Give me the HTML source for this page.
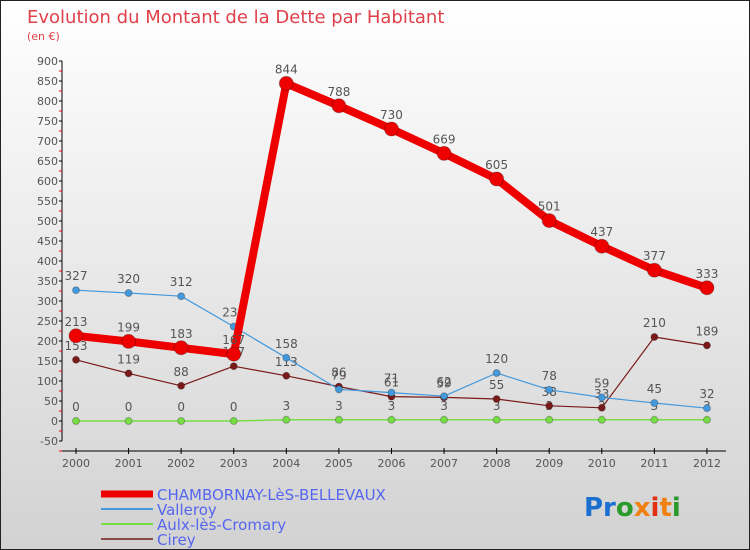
<!DOCTYPE html>
<html><head><meta charset="utf-8"><style>
body{margin:0}
#c{width:750px;height:550px;position:relative;overflow:hidden;background:linear-gradient(#ffffff,#d2d2d2);box-sizing:border-box;border:1px solid #222;font-family:"DejaVu Sans","Liberation Sans",sans-serif}
</style></head><body>
<div id="c">
<svg id="s" width="750" height="550" style="position:absolute;left:0;top:0">
<text x="26" y="22" font-size="18" fill="#e0404a">Evolution du Montant de la Dette par Habitant</text>
<text x="26" y="39" font-size="11" fill="#e0404a">(en €)</text>
<g id="g"></g>
<text x="583" y="515" font-size="26" font-weight="bold"><tspan fill="#1a6fd0">Pr</tspan><tspan fill="#2a9a2a">o</tspan><tspan fill="#f08010">x</tspan><tspan fill="#e03010">i</tspan><tspan fill="#f08010">t</tspan><tspan fill="#2a9a2a">i</tspan></text>
</svg></div>
<script>
const years=[2000,2001,2002,2003,2004,2005,2006,2007,2008,2009,2010,2011,2012];
const cham=[213,199,183,167,844,788,730,669,605,501,437,377,333];
const valleroy=[327,320,312,236,158,79,71,62,120,78,59,45,32];
const aulx=[0,0,0,0,3,3,3,3,3,3,3,3,3];
const cirey=[153,119,88,137,113,86,61,59,55,38,33,210,189];
const yTicks=[-50,0,50,100,150,200,250,300,350,400,450,500,550,600,650,700,750,800,850,900];
const NS="http://www.w3.org/2000/svg";
const g=document.getElementById('g');
const X=i=>75+i*52.58, Y=v=>420-v*0.4;
function el(t,a,p){const e=document.createElementNS(NS,t);for(const k in a)e.setAttribute(k,a[k]);(p||g).appendChild(e);return e;}
let ax=el('line',{x1:61,y1:60,x2:61,y2:440,stroke:'#000','stroke-width':1});

yTicks.forEach(v=>{
 let t=el('line',{x1:58,x2:61,y1:Y(v),y2:Y(v),stroke:'#000'});
 
 let r=el('line',{x1:58,x2:61,y1:Y(v)+10,y2:Y(v)+10,stroke:'#f00'});
 
 let l=el('text',{x:57,y:Y(v)+4,'font-size':11,'text-anchor':'end',fill:'#555'});l.textContent=v;
 
});
let xa=el('line',{x1:61,y1:450,x2:725,y2:450,stroke:'#000'});

years.forEach((y,i)=>{
 let t=el('line',{x1:X(i),x2:X(i),y1:447,y2:453,stroke:'#000'});
 
 let l=el('text',{x:X(i),y:466,'font-size':11,'text-anchor':'middle',fill:'#555'});l.textContent=y;
 
});
function series(data,color,w,r,name){
 let p=el('polyline',{points:data.map((v,i)=>X(i)+','+Y(v)).join(' '),fill:'none',stroke:color,'stroke-width':w,'stroke-linejoin':'round'});
 
 data.forEach((v,i)=>{
  let c=el('circle',{cx:X(i),cy:Y(v),r:r,fill:color,stroke:'rgba(0,0,0,0.25)','stroke-width':1});
  
  let l=el('text',{x:X(i),y:Y(v)-10,'font-size':12,'text-anchor':'middle',fill:'#555'});l.textContent=v;
  
 });
}
series(aulx,'#77dd44',1.5,3.5,'aulx');
series(cirey,'#7a1a1a',1.2,3.5,'cirey');
series(valleroy,'#4499dd',1.2,3.5,'valleroy');
series(cham,'#ee0000',8,7,'chambornay');
const legend=[['CHAMBORNAY-LèS-BELLEVAUX','#ee0000',7],['Valleroy','#4499dd',2],['Aulx-lès-Cromary','#77dd44',2],['Cirey','#8a4a4a',2]];
legend.forEach((L,i)=>{
 const y=493+i*15;
 let s=el('line',{x1:100,x2:152,y1:y,y2:y,stroke:L[1],'stroke-width':L[2]});
 
 let t=el('text',{x:156,y:y+6,'font-size':15,fill:'#5566ee'});t.textContent=L[0];
 
});
</script></body></html>
